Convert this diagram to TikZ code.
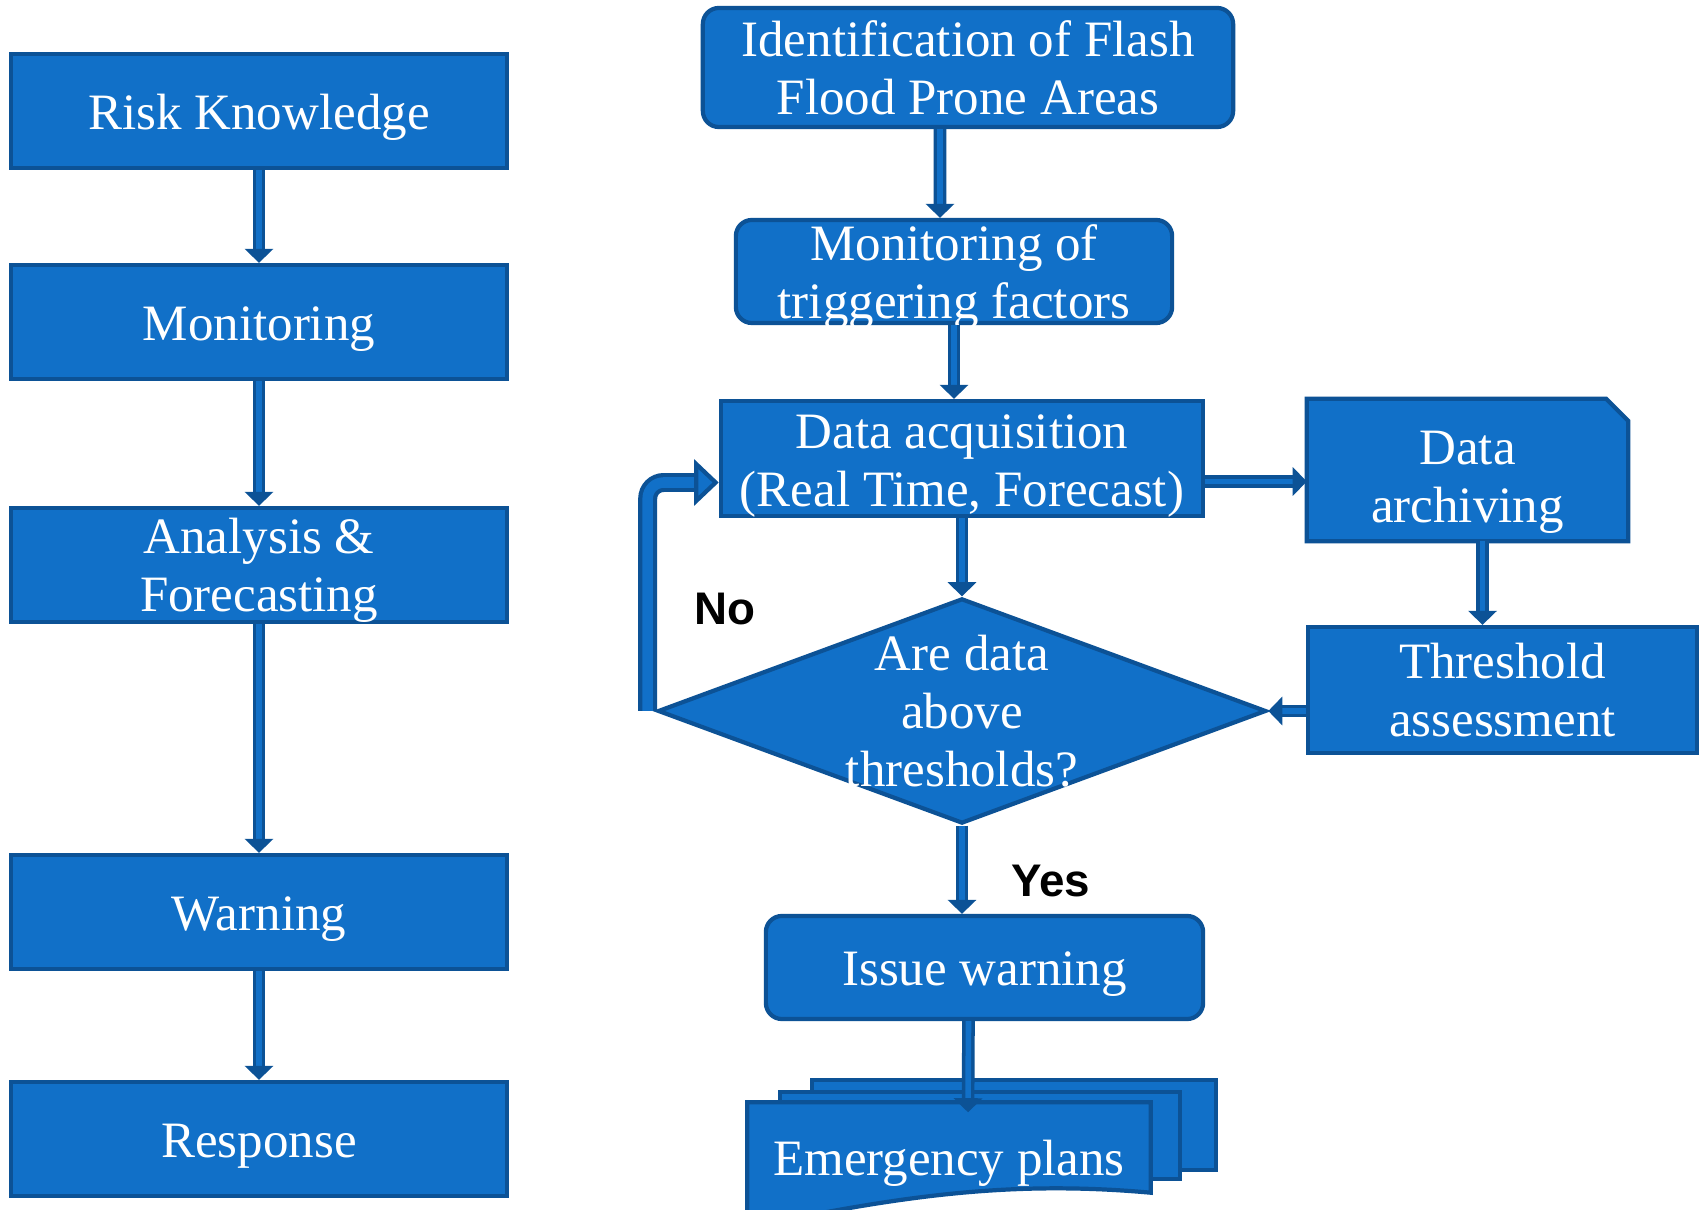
\documentclass[tikz,border=0pt]{standalone}
\usepackage{fontspec}
\setmainfont{Liberation Serif}
\newfontfamily\labelfont{Liberation Sans}
\usetikzlibrary{positioning,arrows.meta,calc,shapes.geometric,backgrounds}
\definecolor{boxblue}{HTML}{1170C8}
\definecolor{edgeblue}{HTML}{0C5296}
\tikzset{
    every node/.style={font=\fontsize{14.5}{16.5}\selectfont},
    block/.style={rectangle,draw=edgeblue,fill=boxblue,line width=1.2pt,text=white,align=center,inner sep=0pt},
    rblock/.style={block,rounded corners=0.16cm},
    lowered/.style={execute at begin node={\rule{0pt}{13.4pt}},inner ysep=-3pt},
    leftbox/.style={block,lowered,minimum width=4.96cm,minimum height=1.14cm},
    archive/.style={block,draw=none,fill=none},
    decision/.style={diamond,draw=edgeblue,fill=boxblue,line width=1.2pt,inner sep=0pt},
    dtext/.style={text=white,align=center,inner sep=0pt},
    docpage/.style={draw=edgeblue,fill=boxblue,line width=1.2pt},
    answer/.style={font=\labelfont\bfseries\fontsize{13}{15}\selectfont},
    link/.style={draw=edgeblue,line width=1pt,double=boxblue,double distance=1.6pt,-{Triangle[width=8pt,length=4pt]}},
    backlink/.style={draw=edgeblue,line width=1.2pt,double=boxblue,double distance=3pt,rounded corners=0.16cm,-{Triangle[width=13pt,length=7pt,fill=boxblue]}}
}

\begin{document}
\begin{tikzpicture}[x=0.01cm,y=-0.01cm]
\useasboundingbox (0,0) rectangle (1699,1210);

\node[leftbox] (risk) at (259,111) {Risk Knowledge};
\node[leftbox] (mon) at (259,322) {Monitoring};
\node[block,minimum width=4.96cm,minimum height=1.14cm,
      label={[dtext,yshift=-0.055cm]center:{Analysis \&\\Forecasting}}] (anal) at (259,565) {};
\node[leftbox] (warn) at (259,912) {Warning};
\node[leftbox] (resp) at (259,1139) {Response};

\node[rblock,minimum width=5.30cm,minimum height=1.19cm] (ident) at (968,67.5) {Identification of Flash\\Flood Prone Areas};
\node[rblock,minimum width=4.36cm,minimum height=1.03cm,
      label={[dtext,yshift=-0.06cm]center:{Monitoring of\\triggering factors}}] (trig) at (954,271.5) {};
\node[block,minimum width=4.82cm,minimum height=1.15cm,
      label={[dtext,yshift=-0.075cm]center:{Data acquisition\\(Real Time, Forecast)}}] (acq) at (962,458.5) {};
\node[archive,minimum width=3.17cm,minimum height=1.38cm,
      label={[dtext,yshift=-0.12cm]center:{Data\\archiving}}] (arch) at (1467.5,470) {};
\node[decision,minimum width=6.08cm,minimum height=2.25cm,
      label={[dtext]center:{Are data\\above\\thresholds?}}] (test) at (962,711) {};
\node[block,minimum width=3.89cm,minimum height=1.26cm] (thr) at (1502.5,690) {Threshold\\assessment};
\node[rblock,lowered,minimum width=4.37cm,minimum height=1.03cm] (issue) at (984.5,967.5) {Issue warning};
\node[lowered,minimum width=4.02cm,minimum height=1.08cm,text=white,inner sep=0pt] (plans) at (949,1157) {Emergency plans};

\node[answer] (no) at (725,609) {No};
\node[answer] (yes) at (1051,881) {Yes};

\begin{scope}[on background layer]
\fill[white] (0,0) rectangle (1699,1210);
\draw[docpage] (arch.south west) -- (arch.north west) -- ([xshift=-0.22cm]arch.north east)
   -- ([yshift=-0.22cm]arch.north east) -- (arch.south east) -- cycle;
\draw[docpage] (812,1080) rectangle (1216,1170);
\draw[docpage] (780,1092) rectangle (1180,1179);
\draw[docpage] (plans.north west) -- (plans.north east) -- ([yshift=0.19cm]plans.south east)
   .. controls (1010,1180) and (900,1196) .. ([yshift=-0.16cm]plans.south west) -- cycle;
\end{scope}

\draw[link] (risk) -- (mon);
\draw[link] (mon) -- (anal);
\draw[link] (anal) -- (warn);
\draw[link] (warn) -- (resp);

\draw[link] ([xshift=-0.28cm]ident.south) -- ([xshift=-0.14cm]trig.north);
\draw[link] (trig.south) -- (trig.south |- acq.north);
\draw[link] (acq.south) -- (test.north);
\draw[link] ([yshift=-0.23cm]acq.east) -- ([yshift=-0.23cm]acq.east -| arch.west);
\draw[link] ([xshift=0.15cm]arch.south) -- ([xshift=0.15cm]arch.south |- thr.north);
\draw[link] (thr.west |- test.east) -- (test.east);
\draw[link] (test.south) -- (test.south |- issue.north);
\draw[link] ([xshift=-0.16cm]issue.south) -- ([xshift=0.19cm,yshift=-0.1cm]plans.north);
\draw[backlink] ([xshift=-0.08cm]test.west) |- ([yshift=-0.24cm]acq.west);
\end{tikzpicture}
\end{document}
